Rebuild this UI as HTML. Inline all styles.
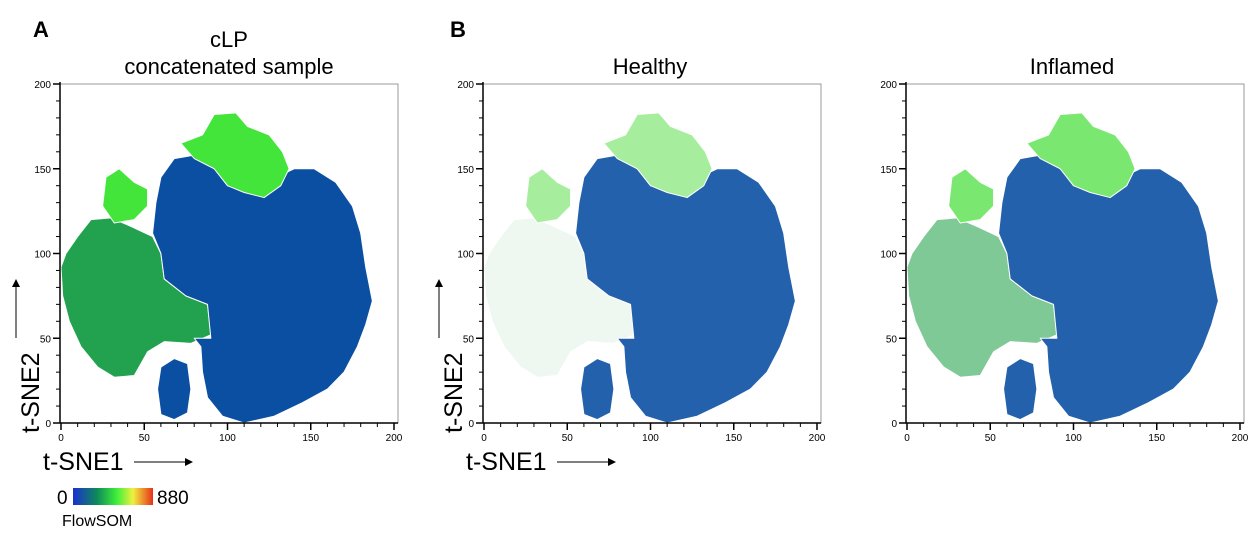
<!DOCTYPE html>
<html><head><meta charset="utf-8"><style>
body{margin:0;background:#fff;width:1259px;height:536px;overflow:hidden;font-family:"Liberation Sans",sans-serif}
svg text{font-family:"Liberation Sans",sans-serif}
</style></head><body>
<svg id="c" width="1259" height="536">
<defs>
<linearGradient id="cb" x1="0" x2="1"><stop offset="0" stop-color="#1a2fd0"/><stop offset="0.3" stop-color="#0f8a5a"/><stop offset="0.55" stop-color="#3ef03a"/><stop offset="0.75" stop-color="#f0f040"/><stop offset="1" stop-color="#e8301a"/></linearGradient>
</defs>
<text x="33" y="37" font-size="22" font-weight="bold">A</text>
<text x="450" y="37" font-size="22" font-weight="bold">B</text>
<text x="229" y="47" font-size="22" text-anchor="middle">cLP</text>
<text x="229" y="74" font-size="22" text-anchor="middle">concatenated sample</text>
<text x="650" y="74" font-size="22" text-anchor="middle">Healthy</text>
<text x="1072" y="74" font-size="22" text-anchor="middle">Inflamed</text>
<g>
<rect x="73" y="488" width="80" height="17" fill="url(#cb)"/>
<text x="57" y="504" font-size="19">0</text>
<text x="157" y="504" font-size="19">880</text>
<text x="62" y="526" font-size="16">FlowSOM</text>
</g>
</svg>
<script>
const ticks=[0,50,100,150,200];
const blueMain=[[55,112],[57,130],[60,145],[68,156],[80,158],[92,150],[100,140],[112,138],[125,143],[140,150],[152,150],[165,142],[175,128],[180,112],[183,92],[187,72],[183,58],[178,45],[170,30],[160,20],[145,12],[128,4],[110,0],[97,4],[88,15],[85,30],[84,45],[80,50],[90,50],[88,70],[75,75],[62,85],[60,100]];
const greenLeft=[[0,92],[3,100],[10,110],[18,120],[30,121],[42,116],[55,110],[60,100],[62,85],[75,75],[88,70],[90,52],[78,47],[62,48],[52,42],[44,28],[32,27],[22,33],[12,45],[5,60],[1,75]];
const brightTop=[[72,165],[85,170],[92,182],[105,183],[112,175],[125,170],[133,160],[137,150],[132,140],[122,133],[110,136],[100,140],[92,150],[80,156]];
const brightLeft=[[25,128],[27,145],[35,150],[44,142],[52,138],[52,128],[44,120],[32,118]];
const island=[[60,5],[68,2],[76,6],[78,20],[76,35],[68,38],[60,33],[58,20]];
const panels=[{x0:61,x1:394,blue:'#0b4fa3',green:'#22a24f',bright:'#44e53a'},{x0:484,x1:817,blue:'#2461ac',green:'#eef7f0',bright:'#a6ee9e'},{x0:907,x1:1240,blue:'#2461ac',green:'#7fc996',bright:'#7ae870'}];
const Y0=423,Y1=84;
const svg=document.getElementById('c');const NS='http://www.w3.org/2000/svg';
function mk(t,a){const e=document.createElementNS(NS,t);for(const k in a)e.setAttribute(k,a[k]);svg.appendChild(e);return e;}
panels.forEach((p,i)=>{
 const sx=v=>p.x0+v*(p.x1-p.x0)/200, sy=v=>Y0-v*(Y0-Y1)/200;
 const poly=(pts,col,name)=>{const e=mk('polygon',{points:pts.map(q=>sx(q[0])+','+sy(q[1])).join(' '),fill:col,'stroke':'#fff','stroke-width':1,'stroke-linejoin':'round'});
 
 };
 poly(greenLeft,p.green,'cluster-green');
 poly(blueMain,p.blue,'cluster-blue');
 poly(island,p.blue,'cluster-blue-island');
 poly(brightTop,p.bright,'cluster-bright-top');
 poly(brightLeft,p.bright,'cluster-bright-left');
 const fr=mk('rect',{x:p.x0-1,y:Y1,width:p.x1-p.x0+5,height:Y0-Y1,fill:'none',stroke:'#999','stroke-width':1});
 
 
 mk('line',{x1:p.x0-1,y1:Y1-2,x2:p.x0-1,y2:Y0,stroke:'#000','stroke-width':1.5});
 mk('line',{x1:p.x0-1,y1:Y0,x2:p.x1+4,y2:Y0,stroke:'#000','stroke-width':1.5});
 for(let v=0;v<=200;v+=10){const big=v%50==0;
  mk('line',{x1:sx(v),y1:Y0,x2:sx(v),y2:Y0+(big?7:4),stroke:'#000','stroke-width':big?1.5:1});
  mk('line',{x1:p.x0-1,y1:sy(v),x2:p.x0-(big?8:5),y2:sy(v),stroke:'#000','stroke-width':big?1.5:1});}
 ticks.forEach(v=>{
  const t=mk('text',{x:sx(v),y:Y0+18,'font-size':10,'text-anchor':'middle'});t.textContent=v;
  
  
  const u=mk('text',{x:p.x0-10,y:sy(v)+4,'font-size':10,'text-anchor':'end'});u.textContent=v;
  
  });
 if(i<2){
  const a=mk('text',{x:p.x0-18,y:470,'font-size':25});a.textContent='t-SNE1';
  
  
  mk('line',{x1:p.x0+73,y1:462,x2:p.x0+126,y2:462,stroke:'#000','stroke-width':1});
  mk('polygon',{points:`${p.x0+132},462 ${p.x0+124},458 ${p.x0+124},466`,fill:'#000'});
  const b=mk('text',{x:0,y:0,'font-size':25,transform:`translate(${p.x0-22},433) rotate(-90)`});b.textContent='t-SNE2';
  
  
  mk('line',{x1:p.x0-45,y1:338,x2:p.x0-45,y2:285,stroke:'#000','stroke-width':1});
  mk('polygon',{points:`${p.x0-45},279 ${p.x0-49},287 ${p.x0-41},287`,fill:'#000'});
 }
});
</script>
</body></html>
